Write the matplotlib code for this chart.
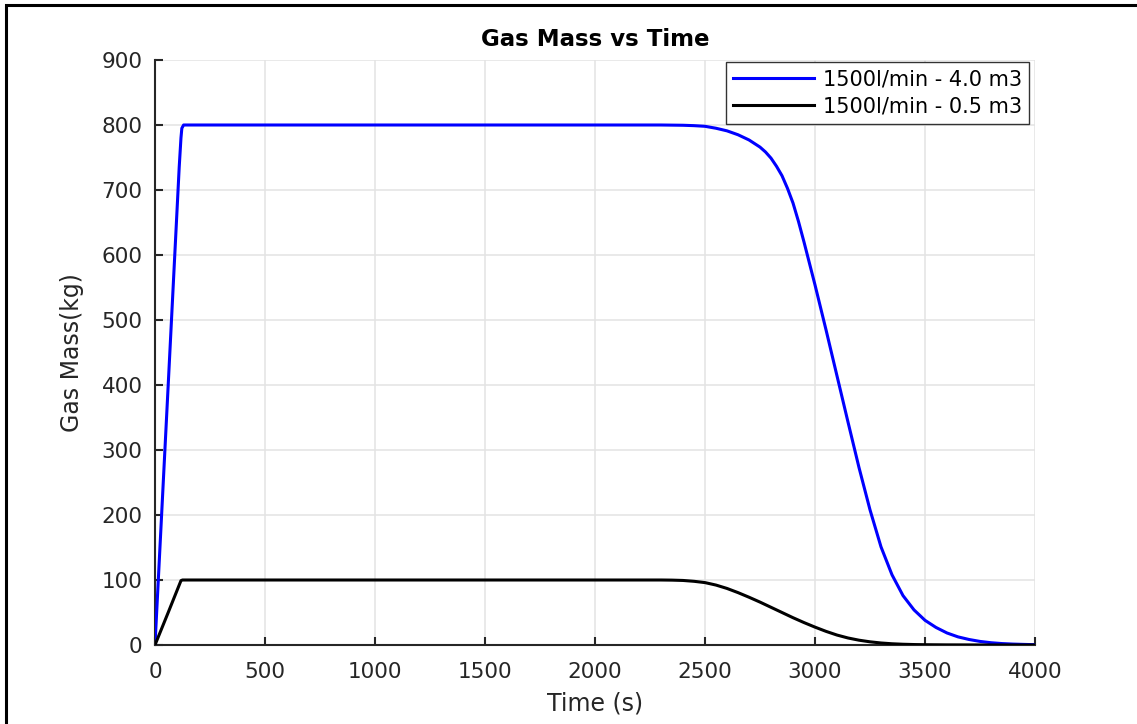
import matplotlib
matplotlib.use("Agg")
import matplotlib.pyplot as plt
from matplotlib.patches import Rectangle

plt.rcParams['font.family'] = ['DejaVu Sans']

# Tank 4.0 m3 at 1500 l/min
t_large = [0, 60, 110, 118, 122, 130, 500, 1000, 1500, 2000, 2300, 2400, 2450,
           2500, 2550, 2600, 2650, 2700, 2750, 2775, 2800, 2825, 2850, 2875,
           2900, 2925, 2950, 3000, 3050, 3100, 3150, 3200, 3250, 3300, 3350,
           3400, 3450, 3500, 3550, 3600, 3650, 3700, 3750, 3800, 3850, 3900,
           3950, 4000]
m_large = [0, 400, 735, 780, 795, 800, 800, 800, 800, 800, 800, 799.6, 799,
           798, 795, 791, 785, 777, 766, 758.5, 749, 736.5, 722, 702.5,
           680, 651.5, 620, 554, 485, 414, 343, 273, 208, 151, 108,
           76, 54, 38, 27, 18.5, 12.5, 8.5, 5.5, 3.5, 2.2, 1.4,
           0.9, 0.5]

# Tank 0.5 m3 at 1500 l/min
t_small = [0, 60, 118, 125, 500, 1000, 1500, 2000, 2300, 2350, 2400, 2450,
           2500, 2550, 2600, 2650, 2700, 2750, 2800, 2850, 2900, 2950, 3000,
           3050, 3100, 3150, 3200, 3250, 3300, 3350, 3400, 3450, 3500, 3600,
           3800, 4000]
m_small = [0, 50, 99, 100, 100, 100, 100, 100, 100, 99.8, 99.3, 98,
           96, 92.2, 87, 80.6, 73.5, 66, 58, 50, 42, 34.5, 27.5,
           21, 15.3, 10.8, 7.4, 4.9, 3.1, 1.9, 1.15, 0.7, 0.45, 0.2,
           0.05, 0]

series_labels = ['1500l/min - 4.0 m3', '1500l/min - 0.5 m3']
x_ticks = [0, 500, 1000, 1500, 2000, 2500, 3000, 3500, 4000]
y_ticks = [0, 100, 200, 300, 400, 500, 600, 700, 800, 900]

W, H = 1137, 724
fig = plt.figure(figsize=(W / 100, H / 100), dpi=100)
ax = fig.add_axes([155 / W, 1 - 645 / H, 880 / W, 585 / H])

ax.plot(t_large, m_large, color='#0000ff', lw=2.2, label=series_labels[0], zorder=3)
ax.plot(t_small, m_small, color='#000000', lw=2.2, label=series_labels[1], zorder=3)

ax.set_xlim(0, 4000)
ax.set_ylim(0, 900)
ax.set_xticks(x_ticks)
ax.set_yticks(y_ticks)

ax.grid(True, color='#e3e3e3', lw=1.1, zorder=0)
ax.set_axisbelow(True)

for side in ('top', 'right'):
    ax.spines[side].set_visible(False)
for side in ('left', 'bottom'):
    ax.spines[side].set_color('#262626')
    ax.spines[side].set_linewidth(1.5)

ax.tick_params(axis='both', direction='in', length=6, width=1.5,
               colors='#262626', labelsize=15.5, labelcolor='#262626')
ax.tick_params(axis='y', pad=9.0)
ax.tick_params(axis='x', pad=12)

ax.set_title('Gas Mass vs Time', fontsize=16.5, fontweight='bold', pad=9.8)
ax.set_xlabel('Time (s)', fontsize=17, color='#262626')
ax.set_ylabel('Gas Mass(kg)', fontsize=17, color='#262626')
ax.xaxis.set_label_coords(0.5, (645 - 692) / 585)
ax.yaxis.set_label_coords((84 - 155) / 880, 0.5)

leg = ax.legend(loc='upper right', bbox_to_anchor=(1029 / W, 1 - 62 / H),
                bbox_transform=fig.transFigure, fontsize=15, frameon=True,
                fancybox=False, edgecolor='#333333', framealpha=1.0,
                handlelength=3.9, handletextpad=0.4, borderpad=0.35,
                labelspacing=0.35, borderaxespad=0)
leg.get_frame().set_linewidth(1.0)

# figure border
fig.patches.append(Rectangle((6 / W, -0.1), 1.2, 1.1 - 5 / H, transform=fig.transFigure,
                             fill=False, edgecolor='black', lw=2.2))

fig.savefig('out.png', dpi=100)
